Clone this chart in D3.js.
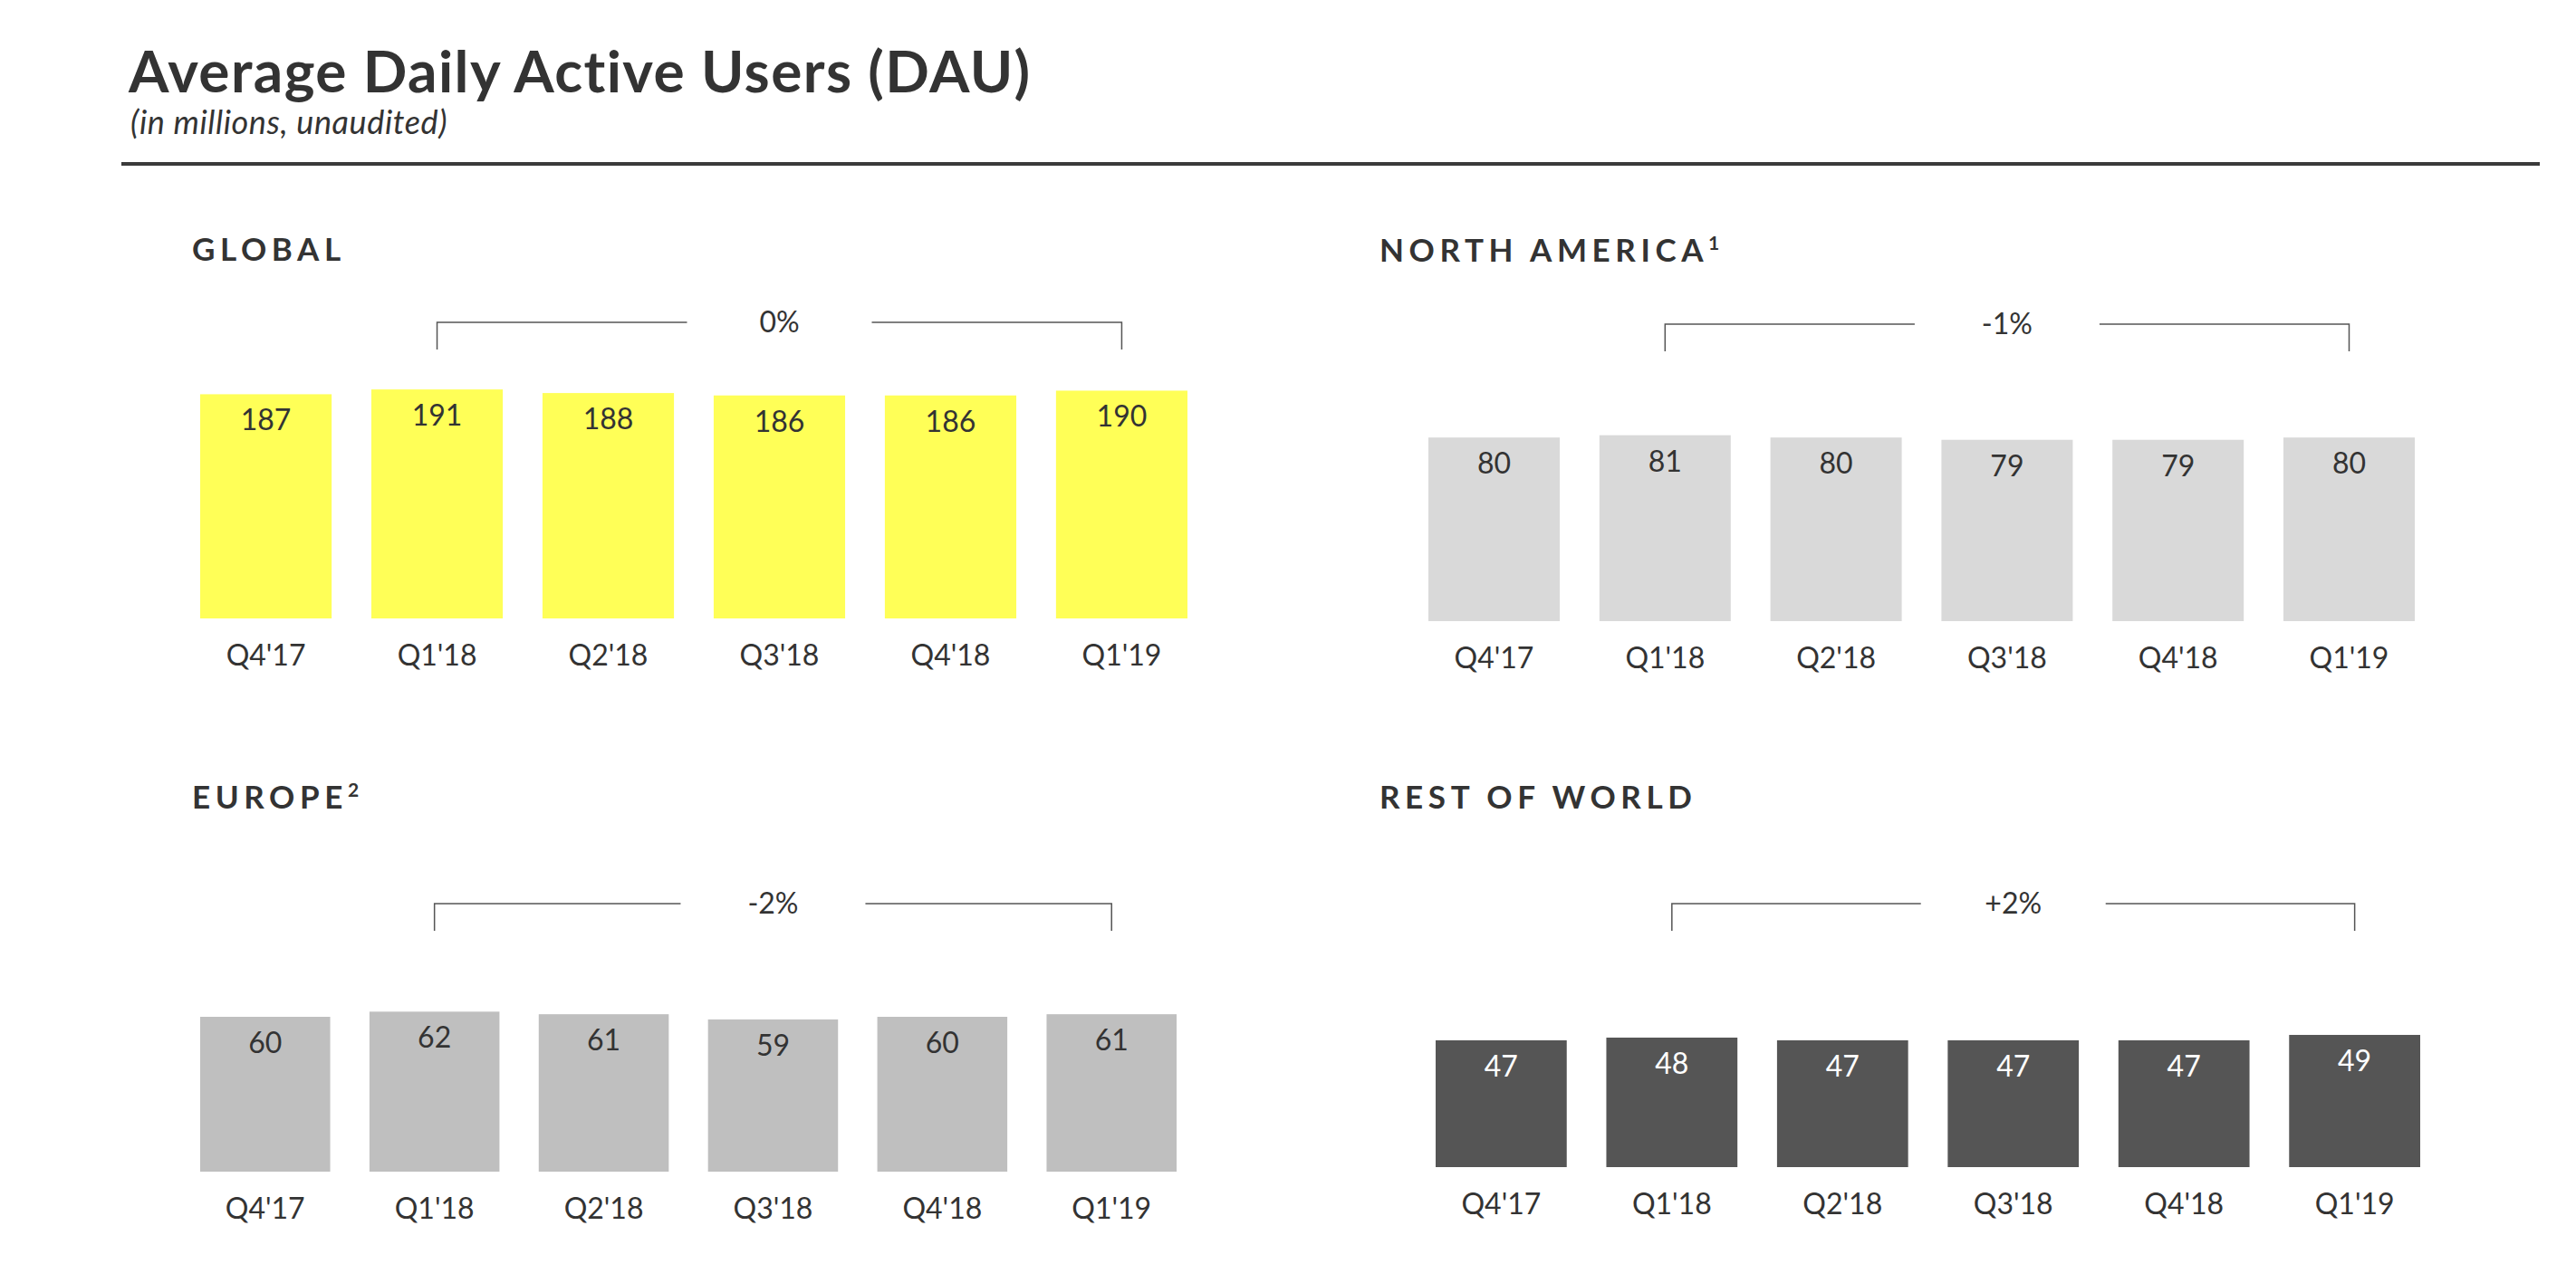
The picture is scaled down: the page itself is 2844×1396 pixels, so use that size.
<!DOCTYPE html>
<html>
<head>
<meta charset="utf-8">
<script src="https://cdn.jsdelivr.net/npm/d3@7"></script>
<style>
  body { margin: 0; background: #fff; }
  svg { display: block; }
  text { font-family: Lato, "Noto Sans", sans-serif; fill: #333; }
</style>
</head>
<body>
<div id="plot-container"></div>
<script>
// data
var quarters = ["Q4'17", "Q1'18", "Q2'18", "Q3'18", "Q4'18", "Q1'19"];
var globalDau = [187, 191, 188, 186, 186, 190];
var northAmericaDau = [80, 81, 80, 79, 79, 80];
var europeDau = [60, 62, 61, 59, 60, 61];
var restOfWorldDau = [47, 48, 47, 47, 47, 49];
var panelTitles = ["GLOBAL", "NORTH AMERICA", "EUROPE", "REST OF WORLD"];
var footnotes = ["", "1", "2", ""];
var growthLabels = ["0%", "-1%", "-2%", "+2%"];

var width = 2844;
var height = 1396;

// where each panel sits on the page
var panels = [
  { values: globalDau, titleX: 212, titleY: 288, left: 221, right: 1311, bottom: 683, pxPerUnit: 1.324, bracketY: 356, fill: "#ffff57", labelFill: "#333" },
  { values: northAmericaDau, titleX: 1523, titleY: 289, left: 1577, right: 2666, bottom: 686, pxPerUnit: 2.535, bracketY: 358, fill: "#d9d9d9", labelFill: "#333" },
  { values: europeDau, titleX: 212, titleY: 893, left: 221, right: 1299, bottom: 1294, pxPerUnit: 2.85, bracketY: 998, fill: "#bfbfbf", labelFill: "#333" },
  { values: restOfWorldDau, titleX: 1523, titleY: 893, left: 1585, right: 2672, bottom: 1289, pxPerUnit: 2.98, bracketY: 998, fill: "#555555", labelFill: "#fff" }
];

var svg = d3.select("#plot-container")
  .append("svg")
  .attr("width", width)
  .attr("height", height);

// page header
svg.append("text")
  .attr("x", 142)
  .attr("y", 102)
  .attr("font-size", 64)
  .attr("font-weight", 700)
  .attr("letter-spacing", 1.4)
  .text("Average Daily Active Users (DAU)");

svg.append("text")
  .attr("x", 144)
  .attr("y", 148)
  .attr("font-size", 36)
  .attr("font-style", "italic")
  .attr("letter-spacing", 0.6)
  .text("(in millions, unaudited)");

svg.append("line")
  .attr("x1", 134).attr("x2", 2804)
  .attr("y1", 181).attr("y2", 181)
  .attr("stroke", "#3a3a3a")
  .attr("stroke-width", 4);

panels.forEach(function(p, i) {
  var g = svg.append("g");

  var x = d3.scaleBand()
    .domain(quarters)
    .range([p.left, p.right])
    .paddingInner(0.232)
    .paddingOuter(0);

  var maxV = d3.max(p.values);
  var y = d3.scaleLinear()
    .domain([0, maxV])
    .range([p.bottom, p.bottom - maxV * p.pxPerUnit]);

  // panel title
  var title = g.append("text")
    .attr("x", p.titleX)
    .attr("y", p.titleY)
    .attr("font-size", 35)
    .attr("font-weight", 700)
    .attr("letter-spacing", "0.16em")
    .text(panelTitles[i]);
  if (footnotes[i]) {
    title.append("tspan")
      .attr("dy", -13)
      .attr("font-size", 21)
      .attr("letter-spacing", 0)
      .text(footnotes[i]);
  }

  var rows = quarters.map(function(q, j) { return { q: q, v: p.values[j] }; });

  g.selectAll("rect.bar")
    .data(rows)
    .enter().append("rect")
    .attr("class", "bar")
    .attr("x", function(d) { return x(d.q); })
    .attr("y", function(d) { return y(d.v); })
    .attr("width", x.bandwidth())
    .attr("height", function(d) { return y(0) - y(d.v); })
    .attr("fill", p.fill);

  g.selectAll("text.val")
    .data(rows)
    .enter().append("text")
    .attr("class", "val")
    .attr("x", function(d) { return x(d.q) + x.bandwidth() / 2; })
    .attr("y", function(d) { return y(d.v) + 40; })
    .attr("text-anchor", "middle")
    .attr("font-size", 32)
    .style("fill", p.labelFill)
    .text(function(d) { return d.v; });

  // quarter labels
  var axis = g.append("g")
    .attr("transform", "translate(0," + p.bottom + ")")
    .call(d3.axisBottom(x).tickSize(0).tickPadding(29));
  axis.select(".domain").remove();
  axis.selectAll("text")
    .attr("font-size", 32)
    .attr("font-family", "Lato, sans-serif")
    .style("fill", "#333");

  // growth bracket from Q1'18 to Q1'19
  var bx1 = x(quarters[1]) + x.bandwidth() / 2;
  var bx2 = x(quarters[5]) + x.bandwidth() / 2;
  var mid = (bx1 + bx2) / 2;
  var gap = 102;
  var bracket = d3.path();
  bracket.moveTo(bx1, p.bracketY + 30);
  bracket.lineTo(bx1, p.bracketY);
  bracket.lineTo(mid - gap, p.bracketY);
  bracket.moveTo(mid + gap, p.bracketY);
  bracket.lineTo(bx2, p.bracketY);
  bracket.lineTo(bx2, p.bracketY + 30);
  g.append("path")
    .attr("d", bracket.toString())
    .attr("fill", "none")
    .attr("stroke", "#555")
    .attr("stroke-width", 1.5);

  g.append("text")
    .attr("x", mid)
    .attr("y", p.bracketY + 11)
    .attr("text-anchor", "middle")
    .attr("font-size", 32)
    .text(growthLabels[i]);
});
</script>
</body>
</html>
